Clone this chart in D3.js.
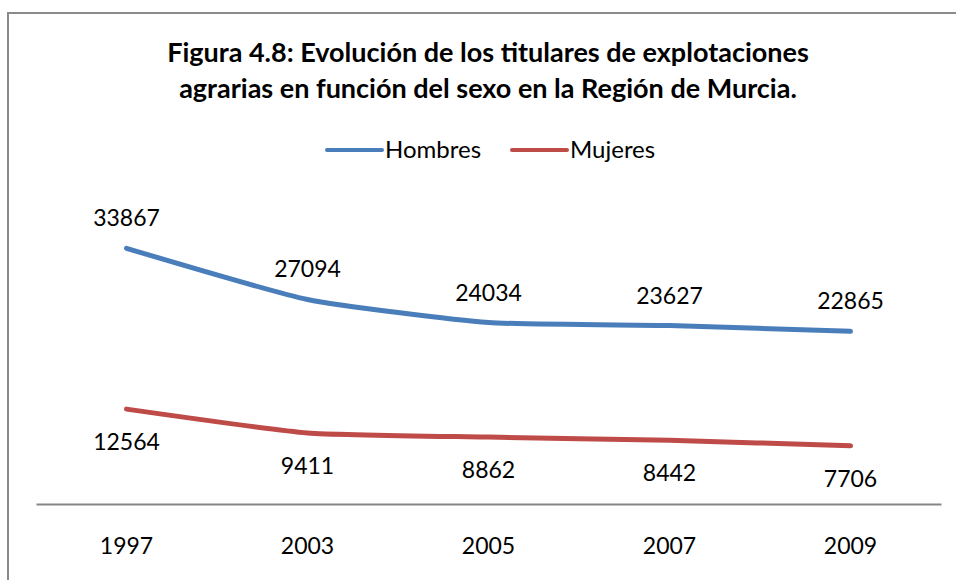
<!DOCTYPE html>
<html>
<head>
<meta charset="utf-8">
<script src="https://cdn.jsdelivr.net/npm/d3@7"></script>
<style>
  body { margin: 0; background: #fff; }
  svg { display: block; font-family: Lato, "Open Sans", sans-serif; }
</style>
</head>
<body>
<div id="chart"></div>
<script>
// chart data
const years = ["1997", "2003", "2005", "2007", "2009"];
const hombres = [33867, 27094, 24034, 23627, 22865];
const mujeres = [12564, 9411, 8862, 8442, 7706];
const seriesNames = ["Hombres", "Mujeres"];
const titleLines = [
  "Figura 4.8: Evolución de los titulares de explotaciones",
  "agrarias en función del sexo en la Región de Murcia."
];

const width = 956, height = 580;
const colors = { Hombres: "#4A7EBB", Mujeres: "#BE4B48" };

const svg = d3.select("#chart").append("svg")
  .attr("width", width)
  .attr("height", height);

// outer frame
svg.append("rect")
  .attr("x", 8).attr("y", 13)
  .attr("width", 960).attr("height", 600)
  .style("fill", "none")
  .style("stroke", "#8a8a8a")
  .style("stroke-width", "2px");

// title
svg.append("g").selectAll("text")
  .data(titleLines)
  .join("text")
  .attr("x", 488)
  .attr("y", (d, i) => 62 + i * 36)
  .attr("text-anchor", "middle")
  .style("font-size", "27px")
  .style("font-weight", "bold")
  .style("fill", "#000")
  .text(d => d);

// scales
const xScale = d3.scaleBand()
  .domain(years)
  .range([36, 941]);

const yScale = d3.scaleLinear()
  .domain([0, 40000])
  .range([504, 202]);

const xc = d => xScale(d) + xScale.bandwidth() / 2;

// x axis
const xAxis = svg.append("g")
  .attr("transform", "translate(0,504)")
  .call(d3.axisBottom(xScale).tickSize(0).tickPadding(34));
xAxis.select(".domain")
  .style("stroke", "#868686")
  .style("stroke-width", "2px");
xAxis.selectAll("text")
  .style("font-family", "Lato, sans-serif")
  .style("font-size", "23px")
  .style("fill", "#000");

// legend
const legend = svg.append("g");
const legendX = [327, 512];
seriesNames.forEach((name, i) => {
  legend.append("line")
    .attr("x1", legendX[i]).attr("x2", legendX[i] + 55)
    .attr("y1", 150).attr("y2", 150)
    .style("stroke", colors[name])
    .style("stroke-width", "4px")
    .style("stroke-linecap", "round");
  legend.append("text")
    .attr("x", legendX[i] + 58)
    .attr("y", 158)
    .style("font-size", "24px")
    .style("fill", "#000")
    .text(name);
});

// lines
const line = d3.line()
  .x(d => xc(d.year))
  .y(d => yScale(d.value))
  .curve(d3.curveCardinal.tension(0.5));

const series = [
  { name: "Hombres", values: years.map((y, i) => ({ year: y, value: hombres[i] })), dy: -22 },
  { name: "Mujeres", values: years.map((y, i) => ({ year: y, value: mujeres[i] })), dy: 41 }
];

series.forEach(s => {
  svg.append("path")
    .datum(s.values)
    .attr("d", line)
    .style("fill", "none")
    .style("stroke", colors[s.name])
    .style("stroke-width", "5px")
    .style("stroke-linecap", "round");

  svg.append("g").selectAll("text")
    .data(s.values)
    .join("text")
    .attr("x", d => xc(d.year))
    .attr("y", d => yScale(d.value) + s.dy)
    .attr("text-anchor", "middle")
    .style("font-size", "23px")
    .style("fill", "#000")
    .text(d => d.value);
});
</script>
</body>
</html>
